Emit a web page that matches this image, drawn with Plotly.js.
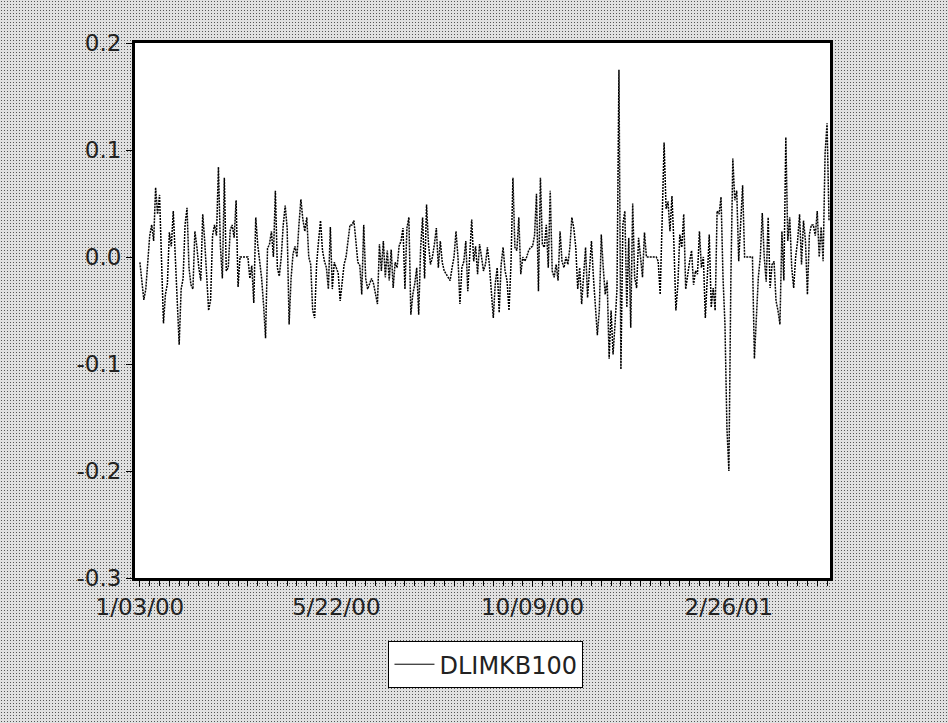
<!DOCTYPE html>
<html>
<head>
<meta charset="utf-8">
<script src="https://cdn.plot.ly/plotly-3.0.1.min.js"></script>
<style>
  html, body { margin: 0; padding: 0; }
  body {
    width: 948px; height: 723px; overflow: hidden;
    background-color: #e0e0e0;
    background-image: radial-gradient(circle, #555555 0.7px, transparent 1.0px);
    background-size: 3px 3px;
  }
  #chart { width: 948px; height: 723px; }
</style>
</head>
<body>
<div id="chart"></div>
<script>
// Series name
const seriesName = "DLIMKB100";

const dlimkb100 = [
  -0.005, -0.02, -0.04, -0.03, 0.0, 0.02, 0.03, 0.015, 0.065, 0.04,
  0.058, 0.005, -0.062, -0.035, -0.025, 0.023, 0.01, 0.043, 0.005, -0.03,
  -0.082, -0.03, -0.02, 0.03, 0.046, -0.01, -0.026, -0.03, 0.024, 0.01,
  -0.01, -0.022, 0.04, 0.015, -0.02, -0.05, -0.04, 0.02, 0.03, 0.02,
  0.084, 0.01, -0.02, 0.074, -0.013, -0.01, 0.025, 0.03, 0.018, 0.053,
  -0.028, 0.0, 0.0, 0.0, 0.0, 0.0, -0.02, -0.008, -0.043, 0.037,
  0.012, -0.004, -0.02, -0.045, -0.076, 0.008, 0.012, 0.024, 0.0, 0.062,
  -0.01, -0.018, 0.0, 0.03, 0.048, 0.027, -0.063, -0.02, 0.003, 0.01,
  0.0, 0.03, 0.054, 0.035, 0.024, 0.037, 0.0, -0.007, -0.05, -0.057,
  -0.007, 0.015, 0.034, 0.006, -0.004, -0.01, -0.03, 0.028, -0.03, -0.005,
  -0.01, -0.015, -0.041, -0.02, -0.007, 0.0, 0.015, 0.03, 0.03, 0.034,
  0.015, -0.005, -0.008, -0.035, 0.03, -0.02, -0.03, -0.025, -0.02, -0.025,
  -0.035, -0.044, 0.012, -0.013, 0.015, -0.019, 0.006, -0.022, 0.007, -0.029,
  -0.005, -0.01, 0.01, 0.015, 0.027, -0.03, 0.027, 0.037, -0.054, -0.035,
  -0.025, -0.01, -0.054, 0.009, 0.037, -0.02, 0.049, 0.012, -0.007, 0.0,
  0.012, 0.027, -0.01, 0.015, -0.005, -0.013, -0.016, -0.019, -0.022, -0.01,
  0.0, 0.024, 0.0, -0.044, -0.01, -0.004, 0.015, -0.032, 0.0, 0.035,
  -0.004, 0.01, -0.016, 0.012, 0.0, -0.013, -0.007, 0.009, -0.007, -0.035,
  -0.057, -0.025, -0.01, -0.052, -0.007, 0.009, -0.013, -0.022, -0.05, -0.007,
  0.074, 0.009, 0.006, 0.037, -0.016, 0.0, -0.004, 0.0, 0.006, 0.009,
  0.01, 0.02, 0.059, -0.032, 0.074, 0.012, 0.009, 0.03, -0.01, 0.062,
  -0.013, -0.019, -0.007, -0.022, 0.024, -0.004, -0.01, 0.0, -0.007, 0.009,
  0.037, 0.027, 0.009, -0.03, -0.01, -0.044, -0.02, 0.009, -0.038, -0.007,
  0.015, -0.019, -0.047, -0.073, -0.05, 0.021, -0.01, -0.035, -0.022, -0.095,
  -0.05, -0.091, -0.063, -0.03, 0.175, -0.105, 0.03, 0.043, -0.047, 0.018,
  -0.066, 0.05, -0.019, -0.029, 0.018, 0.0, -0.019, 0.023, 0.0, 0.0,
  0.0, 0.0, 0.0, 0.0, -0.004, -0.035, 0.034, 0.107, 0.045, 0.052,
  0.024, 0.057, 0.012, -0.05, -0.026, 0.021, 0.009, 0.04, -0.03, -0.014,
  -0.004, 0.006, -0.026, -0.013, -0.016, 0.024, -0.01, 0.0, -0.057, -0.019,
  0.021, -0.047, -0.029, -0.05, 0.043, 0.04, 0.056, -0.019, -0.063, -0.16,
  -0.2, -0.022, 0.092, 0.053, 0.062, -0.004, 0.037, 0.067, 0.0, 0.0,
  0.0, 0.0, 0.0, -0.095, -0.054, -0.019, 0.0, 0.041, 0.0, -0.023,
  0.037, -0.029, -0.007, -0.004, -0.041, -0.05, -0.063, 0.024, -0.022, 0.112,
  0.015, 0.037, -0.01, -0.029, 0.0, 0.015, 0.04, -0.007, 0.034, 0.015,
  -0.035, 0.021, 0.03, 0.03, 0.02, 0.043, 0.0, 0.028, -0.004, 0.097,
  0.125, 0.034
];

// Date tick labels and the observation they sit on
const dateTickLabels = ["1/03/00", "5/22/00", "10/09/00", "2/26/01"];
const dateTickObs = [0, 100, 200, 300];

// Value-axis ticks
const yTickVals = [0.2, 0.1, 0.0, -0.1, -0.2, -0.3];
const yTickText = ["0.2", "0.1", "0.0", "-0.1", "-0.2", "-0.3"];

const obsIndex = dlimkb100.map((_, i) => i);

const fontFam = "'DejaVu Sans', 'Liberation Sans', Arial, sans-serif";

const traces = [
  {
    x: obsIndex, y: dlimkb100, type: "scatter", mode: "lines",
    line: { color: "#000000", width: 1.5, dash: "2px,1px" },
    showlegend: false, hoverinfo: "skip"
  },
  {
    x: [null], y: [null], type: "scatter", mode: "lines",
    name: seriesName,
    line: { color: "#000000", width: 1 },
    showlegend: true
  }
];

const layout = {
  width: 948, height: 723,
  margin: { l: 135, r: 118, t: 43, b: 145, pad: 0 },
  paper_bgcolor: "rgba(0,0,0,0)",
  plot_bgcolor: "#ffffff",
  font: { family: fontFam, size: 23, color: "#000000" },
  showlegend: true,
  legend: {
    orientation: "h",
    x: 0.505, xanchor: "center",
    y: -0.118, yanchor: "top",
    bgcolor: "#ffffff",
    bordercolor: "#000000", borderwidth: 1,
    font: { family: fontFam, size: 24, color: "#222222" },
    itemwidth: 40
  },
  xaxis: {
    range: [-2.5, 351.5],
    tickmode: "array", tickvals: dateTickObs, ticktext: dateTickLabels,
    ticks: "outside", ticklen: 6, tickwidth: 1, tickcolor: "#000",
    showgrid: false, zeroline: false,
    showline: true, linecolor: "#000", linewidth: 3, mirror: true,
    tickfont: { family: fontFam, size: 23, color: "#222222" },
    minor: { tickmode: "linear", tick0: 0, dtick: 5, ticks: "outside", ticklen: 5, tickcolor: "#000", showgrid: false }
  },
  yaxis: {
    range: [-0.3, 0.2],
    tickmode: "array", tickvals: yTickVals, ticktext: yTickText,
    ticks: "outside", ticklen: 6, tickwidth: 1, tickcolor: "#000",
    showgrid: false, zeroline: false,
    showline: true, linecolor: "#000", linewidth: 3, mirror: true,
    tickfont: { family: fontFam, size: 23, color: "#222222" }
  }
};

Plotly.newPlot("chart", traces, layout, { staticPlot: true, displayModeBar: false });
</script>
</body>
</html>
